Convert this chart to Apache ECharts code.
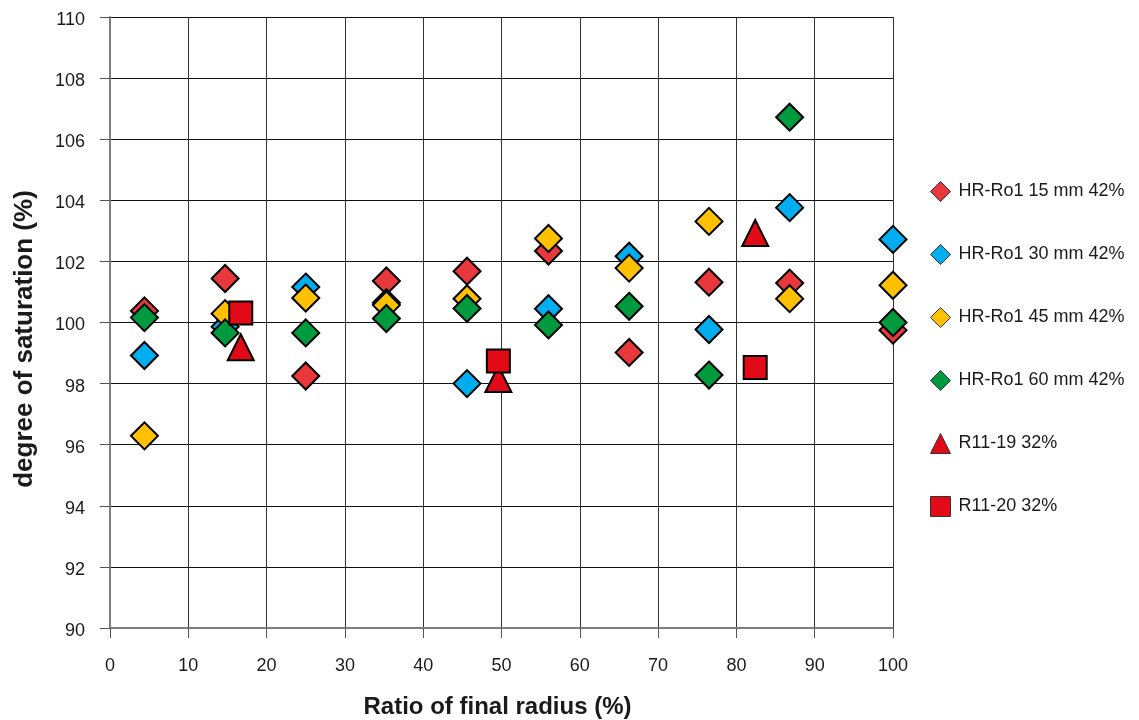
<!DOCTYPE html>
<html>
<head>
<meta charset="utf-8">
<script src="https://cdn.jsdelivr.net/npm/echarts@6/dist/echarts.min.js"></script>
<style>
  html, body { margin: 0; padding: 0; background: #fff; }
  #chart { width: 1139px; height: 720px; }
</style>
</head>
<body>
<div id="chart"></div>
<script>
// Radial positions (ratio of final radius, %)
const radiusRatio = [4.4, 14.7, 25.0, 35.3, 45.6, 56.0, 66.3, 76.5, 86.8, 100];

// Degree of saturation (%) for each HR-Ro1 series
const ro1_15mm = [100.38, 101.44, 98.25, 101.36, 101.68, 102.34, 99.02, 101.32, 101.29, 99.75];
const ro1_30mm = [98.92, 99.86, 101.16, 100.65, 98.00, 100.45, 102.17, 99.77, 103.76, 102.72];
const ro1_45mm = [96.29, 100.29, 100.80, 100.57, 100.78, 102.75, 101.78, 103.31, 100.78, 101.22];
const ro1_60mm = [100.16, 99.66, 99.66, 100.13, 100.46, 99.92, 100.53, 98.28, 106.72, 100.00];

// R11 specimens
const r11Ratio = [16.7, 49.6, 82.4];
const r11_19 = [99.19, 98.15, 102.93];
const r11_20 = [100.31, 98.74, 98.53];

const seriesNames = [
  'HR-Ro1 15 mm 42%', 'HR-Ro1 30 mm 42%', 'HR-Ro1 45 mm 42%',
  'HR-Ro1 60 mm 42%', 'R11-19 32%', 'R11-20 32%'
];

const xTicks = { min: 0, max: 100, step: 10 };
const yTicks = { min: 90, max: 110, step: 2 };

const pair = (xs, ys) => xs.map((x, i) => [x, ys[i]]);
const font = '"Liberation Sans", Arial, sans-serif';

function diamondSeries(name, ys, color) {
  return {
    name, type: 'scatter', data: pair(radiusRatio, ys),
    symbol: 'diamond', symbolSize: 27,
    itemStyle: { color, borderColor: '#000', borderWidth: 2, opacity: 1 },
    emphasis: { disabled: true }
  };
}

const chart = echarts.init(document.getElementById('chart'));
chart.setOption({
  animation: false,
  backgroundColor: '#fff',
  grid: { left: 110, right: 246, top: 17, bottom: 92, outerBoundsMode: 'none' },
  // vertical axis title, centred a little below the plot middle
  graphic: [{
    type: 'text', x: 25, y: 339, rotation: Math.PI / 2,
    style: {
      text: 'degree of saturation (%)', fontFamily: font, fontSize: 26,
      fontWeight: 'bold', fill: '#1a1a1a', align: 'center', verticalAlign: 'middle'
    }
  }],
  legend: {
    orient: 'vertical', left: 925, top: 176,
    itemWidth: 20, itemHeight: 20, itemGap: 42,
    textStyle: { fontFamily: font, fontSize: 18, color: '#1a1a1a', padding: [0, 0, 0, 3] },
    itemStyle: { borderWidth: 1, borderColor: '#333' },
    data: seriesNames
  },
  xAxis: {
    type: 'value', min: xTicks.min, max: xTicks.max, interval: xTicks.step,
    name: 'Ratio of final radius (%)', nameLocation: 'middle', nameGap: 67,
    nameTextStyle: { fontFamily: font, fontSize: 24, fontWeight: 'bold', color: '#1a1a1a', padding: [0, 8, 0, 0] },
    axisLine: { show: true, onZero: false, lineStyle: { color: '#7f7f7f', width: 2 } },
    axisTick: { show: true, length: 10, lineStyle: { color: '#555', width: 1 } },
    axisLabel: { fontFamily: font, fontSize: 18, color: '#1a1a1a', margin: 29 },
    splitLine: { show: true, lineStyle: { color: '#333', width: 1 } }
  },
  yAxis: {
    type: 'value', min: yTicks.min, max: yTicks.max, interval: yTicks.step,
    axisLine: { show: true, onZero: false, lineStyle: { color: '#7f7f7f', width: 2 } },
    axisTick: { show: true, length: 10, lineStyle: { color: '#555', width: 1 } },
    axisLabel: {
      fontFamily: font, fontSize: 18, color: '#1a1a1a', margin: 25,
      formatter: v => '{t|' + v + '}',
      rich: { t: { fontFamily: font, fontSize: 18, color: '#1a1a1a', padding: [6, 0, 0, 0] } }
    },
    splitLine: { show: true, lineStyle: { color: '#111', width: 1 } }
  },
  series: [
    diamondSeries(seriesNames[0], ro1_15mm, '#E8383B'),
    diamondSeries(seriesNames[1], ro1_30mm, '#00AEEF'),
    diamondSeries(seriesNames[2], ro1_45mm, '#FFC000'),
    diamondSeries(seriesNames[3], ro1_60mm, '#009A3E'),
    {
      name: seriesNames[4], type: 'scatter', data: pair(r11Ratio, r11_19),
      symbol: 'triangle', symbolSize: [26, 26],
      itemStyle: { color: '#E20A17', borderColor: '#000', borderWidth: 2, opacity: 1 },
      emphasis: { disabled: true }
    },
    {
      name: seriesNames[5], type: 'scatter', data: pair(r11Ratio, r11_20),
      symbol: 'rect', symbolSize: 23,
      itemStyle: { color: '#E20A17', borderColor: '#000', borderWidth: 2, opacity: 1 },
      emphasis: { disabled: true }
    }
  ]
});
</script>
</body>
</html>
